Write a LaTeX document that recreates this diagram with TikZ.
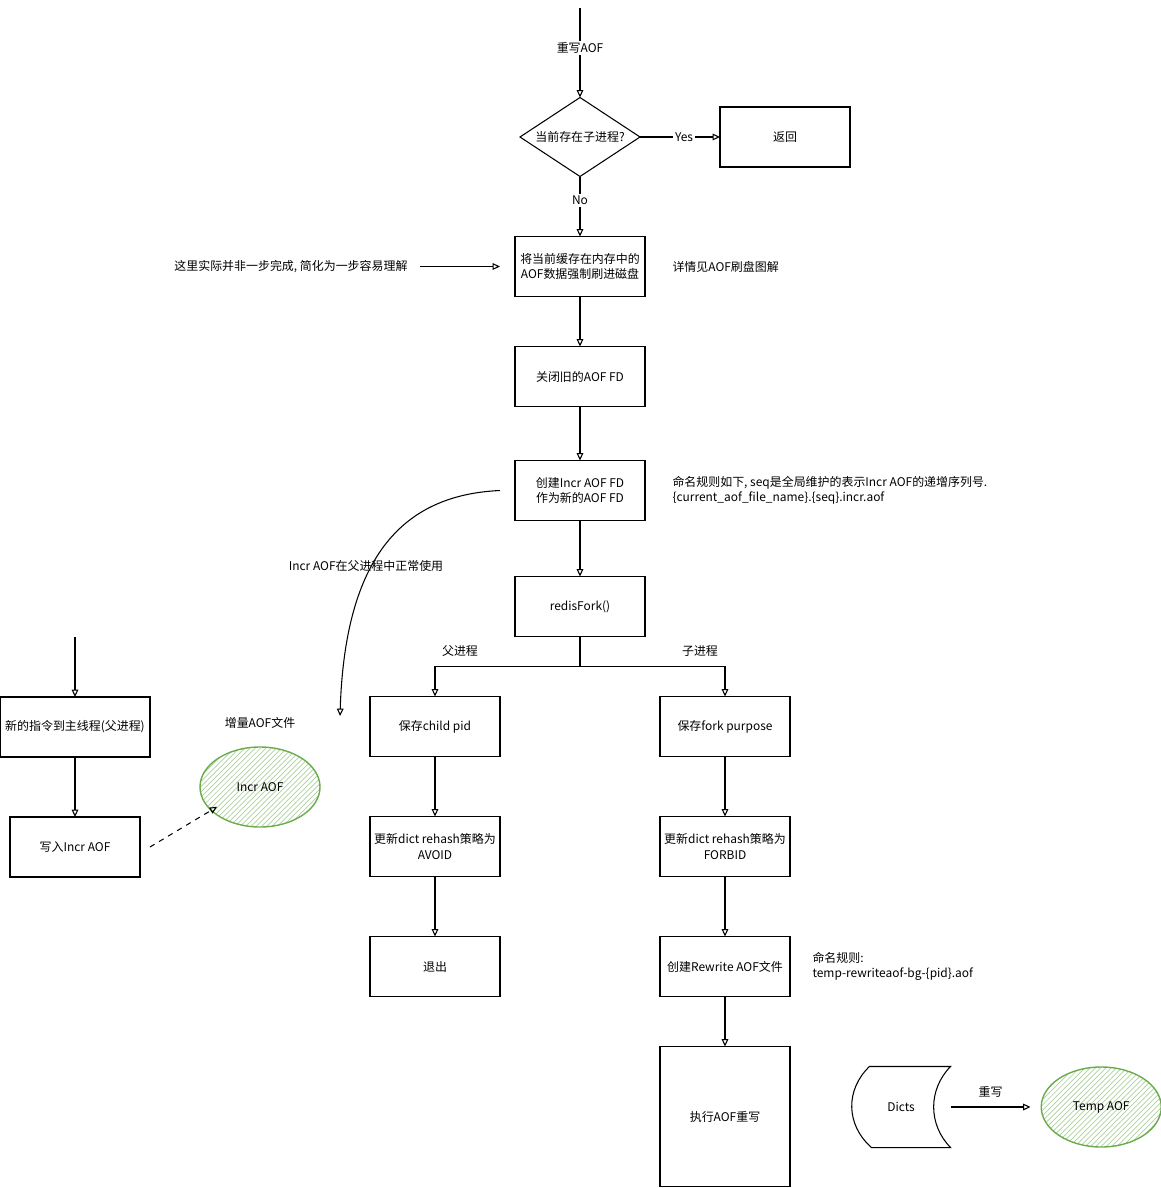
\documentclass[tikz,border=0pt]{standalone}
\usepackage{fontspec}
\setmainfont{Noto Sans CJK SC}
\usetikzlibrary{positioning, calc, shapes.geometric, arrows.meta, patterns}
\definecolor{aofgreen}{RGB}{106,172,76}

\begin{document}
\begin{tikzpicture}[
	font=\fontsize{6.8}{8.8}\selectfont,
	line width=0.6pt,
	>={Triangle[open,length=4.2pt,width=3.8pt]},
	procbox/.style={draw, rectangle, minimum width=2.6cm, minimum height=1.2cm, align=center, inner sep=1pt, outer sep=0pt},
	decision/.style={draw, diamond, aspect=1.52, minimum width=2.4cm, minimum height=1.58cm, inner sep=0pt, outer sep=0pt},
	filenode/.style={draw=aofgreen, line width=0.8pt, ellipse, minimum width=2.4cm, minimum height=1.6cm, pattern=north east lines, pattern color=aofgreen!55},
	note/.style={align=left, inner sep=0pt},
	lbl/.style={fill=white, inner sep=1pt}
]
	\useasboundingbox (0,0) rectangle (23.22,-23.76);

	% main flow
	\coordinate (start) at (11.6,-0.16);
	\node[decision] (haschild) at (11.6,-2.74) {当前存在子进程?};
	\node[procbox] (ret) [right=1.6cm of haschild] {返回};
	\node[procbox] (flush) [below=1.2cm of haschild] {将当前缓存在内存中的\\AOF数据强制刷进磁盘};
	\node[procbox] (closeold) [below=1cm of flush] {关闭旧的AOF FD};
	\node[procbox] (newfd) [below=1.08cm of closeold] {创建Incr AOF FD\\作为新的AOF FD};
	\node[procbox] (fork) [below=1.12cm of newfd] {redisFork()};

	% parent / child
	\node[procbox] (childpid) [below=1.2cm of fork, xshift=-2.9cm] {保存child pid};
	\node[procbox] (avoid) [below=1.2cm of childpid] {更新dict rehash策略为\\AVOID};
	\node[procbox] (exit) [below=1.2cm of avoid] {退出};
	\node[procbox] (purpose) [below=1.2cm of fork, xshift=2.9cm] {保存fork purpose};
	\node[procbox] (forbid) [below=1.2cm of purpose] {更新dict rehash策略为\\FORBID};
	\node[procbox] (rwfile) [below=1.2cm of forbid] {创建Rewrite AOF文件};
	\node[procbox, minimum height=2.8cm] (exec) [below=1cm of rwfile] {执行AOF重写};
	\node (parentlbl) at (9.2,-13.02) {父进程};
	\node (childlbl) at (14.0,-13.02) {子进程};

	% notes
	\node[note] (hint) [left=2.14cm of flush] {这里实际并非一步完成, 简化为一步容易理解};
	\node[note] (flushnote) [right=0.54cm of flush] {详情见AOF刷盘图解};
	\node[note] (seqnote) [right=0.54cm of newfd] {命名规则如下, seq是全局维护的表示Incr AOF的递增序列号.\\\{current\_aof\_file\_name\}.\{seq\}.incr.aof};
	\node[note] (pidnote) [right=0.44cm of rwfile] {命名规则:\\temp-rewriteaof-bg-\{pid\}.aof};

	% main thread side
	\coordinate (cmdin) at (1.5,-12.74);
	\node[procbox, minimum width=3cm] (maincmd) at (1.5,-14.54) {新的指令到主线程(父进程)};
	\node[procbox] (writeincr) [below=1.2cm of maincmd] {写入Incr AOF};
	\node[filenode] (incraof) at (5.2,-15.74) {Incr AOF};
	\node (incrlbl) [above=0.22cm of incraof] {增量AOF文件};

	% rewrite
	\node[minimum width=1.96cm, minimum height=1.6cm] (dicts) at (18.02,-22.14) {Dicts};
	\draw ($(dicts.north west)+(0.36,0)$) -- (dicts.north east)
		.. controls ($(dicts.east)+(-0.45,0.35)$) and ($(dicts.east)+(-0.45,-0.35)$) .. (dicts.south east)
		-- ($(dicts.south west)+(0.4,0)$)
		.. controls ($(dicts.west)+(-0.12,-0.35)$) and ($(dicts.west)+(-0.12,0.35)$) .. cycle;
	\node[filenode] (tempaof) [right=1.8cm of dicts] {Temp AOF};

	\path[->]
	    (start) edge node[lbl, pos=0.45] {重写AOF} (haschild)
	    (haschild) edge node[lbl, pos=0.55] {Yes} (ret)
	    (haschild) edge node[lbl, pos=0.4] {No} (flush)
	    (flush) edge (closeold)
	    (closeold) edge (newfd)
	    (newfd) edge (fork)
	    (childpid) edge (avoid)
	    (avoid) edge (exit)
	    (purpose) edge (forbid)
	    (forbid) edge (rwfile)
	    (rwfile) edge (exec)
	    (cmdin) edge (maincmd)
	    (maincmd) edge (writeincr)
	    ([xshift=0.24cm]hint.east) edge ([xshift=-0.3cm]flush.west)
	    ([xshift=0.2cm]writeincr.east) edge[dashed] ([yshift=0.18cm]incraof.south west)
	    (dicts.east) edge node[above=2pt] {重写} ([xshift=-0.2cm]tempaof.west);

	\draw[->] (fork.south) -- ++(0,-0.6) -| (childpid.north);
	\draw[->] (fork.south) -- ++(0,-0.6) -| (purpose.north);

	% incr aof stays in parent
	\coordinate (usestart) at ([xshift=-0.3cm]newfd.west);
	\coordinate (useend) at (6.8,-14.32);
	\draw[->] (usestart) .. controls (8.0,-9.9) and (6.9,-11.2) .. (useend);
	\node (uselbl) at (7.32,-11.32) {Incr AOF在父进程中正常使用};
\end{tikzpicture}
\end{document}
